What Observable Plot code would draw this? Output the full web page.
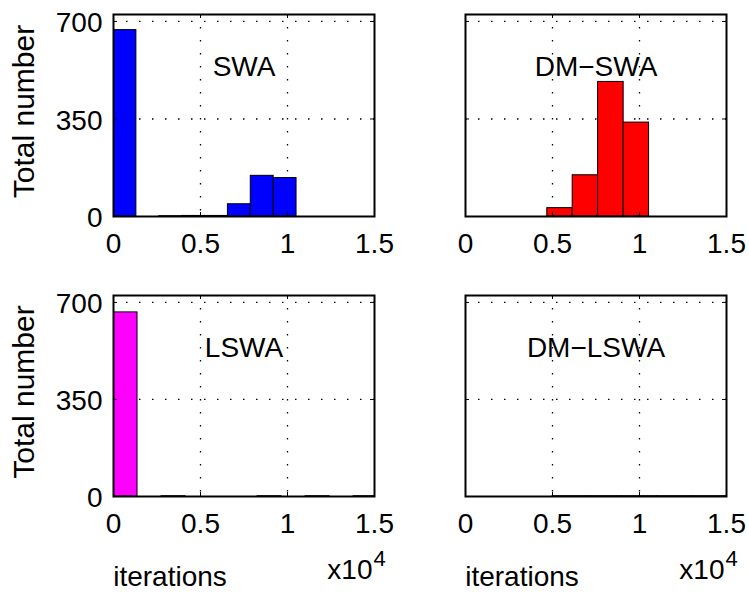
<!DOCTYPE html>
<html>
<head>
<meta charset="utf-8">
<script src="https://cdn.jsdelivr.net/npm/d3@7"></script>
<script src="https://cdn.jsdelivr.net/npm/@observablehq/plot@0.6"></script>
<style>
  html, body { margin: 0; padding: 0; background: #fff; }
  #chart { position: relative; width: 749px; height: 595px; overflow: hidden; }
  #chart svg { position: absolute; background: transparent; }
</style>
</head>
<body>
<div id="chart"></div>
<script>
// ---- data (x in units of 10^4 iterations) ----
const xTickValues = [0, 0.5, 1, 1.5];
const yTickValues = [0, 350, 700];
const xDomain = [0, 1.5];
const yDomain = [0, 725];

const swaEdges = [0, 0.1315, 0.263, 0.3945, 0.526, 0.6575, 0.789, 0.9205, 1.052];
const swaCounts = [669, 0, 1, 2, 2, 44, 146, 138];

const dmSwaEdges = [0.470, 0.616, 0.762, 0.909, 1.055];
const dmSwaCounts = [30, 148, 483, 337];

const lswaEdges = [0, 0.138, 0.276, 0.414, 0.552, 0.69, 0.828, 0.966, 1.104, 1.242, 1.38, 1.518];
const lswaCounts = [664, 0, 1, 0, 0, 0, 1, 0, 1, 0, 1];

const dmLswaEdges = [0.5, 0.7, 0.9, 1.1, 1.3, 1.5];
const dmLswaCounts = [1, 1, 1, 1, 1];

const panelTitles = ["SWA", "DM\u2212SWA", "LSWA", "DM\u2212LSWA"];
const panelColors = ["#0000ff", "#ff0000", "#ff00ff", "#ff0000"];
const yLabel = "Total number";
const xLabel = "iterations";

const FONT = "'Liberation Sans', Arial, Helvetica, sans-serif";
const FS = 28;

function panel({edges, counts, color, title, left, top, width, height, mt, mb, ml, mr, showY, bottomRow}) {
  const bins = counts.map((c, i) => ({x1: edges[i], x2: edges[i + 1], y: c}));
  const fw = width - ml - mr;
  const fh = height - mt - mb;
  const xInner = xTickValues.filter(d => d > xDomain[0] && d < xDomain[1]);
  const yInner = yTickValues.filter(d => d > yDomain[0] && d < yDomain[1]);
  const dotted = {stroke: "black", strokeWidth: 1.3, strokeDasharray: "1.5,11.5"};
  const marks = [
    Plot.ruleX(xInner, dotted),
    Plot.ruleY(yInner, dotted),
    Plot.rectY(bins, {x1: "x1", x2: "x2", y: "y", fill: color, stroke: "black", strokeWidth: 1, inset: 0, clip: true}),
    // inward tick marks
    Plot.ruleX(xInner, {stroke: "black", strokeWidth: 1, insetTop: fh - 4}),
    Plot.ruleX(xInner, {stroke: "black", strokeWidth: 1, insetBottom: fh - 4}),
    Plot.ruleY(yInner, {stroke: "black", strokeWidth: 1, insetRight: fw - 4}),
    Plot.ruleY(yInner, {stroke: "black", strokeWidth: 1, insetLeft: fw - 4}),
    Plot.frame({stroke: "black", strokeWidth: 2}),
    Plot.axisX(xTickValues, {tickSize: 0, tickPadding: 17, fontSize: FS, tickFormat: d => String(d), label: null}),
    Plot.text([title], {frameAnchor: "top", text: d => d, dy: 42, fontSize: FS, fill: "black"})
  ];
  if (showY) {
    marks.push(Plot.axisY(yTickValues, {tickSize: 0, tickPadding: 11, fontSize: FS, dy: 2, label: null}));
    marks.push(Plot.text([yLabel], {frameAnchor: "left", textAnchor: "middle", text: d => d, dx: -89, dy: -4, rotate: -90, fontSize: 30, fill: "black"}));
  }
  if (bottomRow) {
    marks.push(Plot.text([xLabel], {frameAnchor: "bottom", textAnchor: "middle", text: d => d, dx: -74, dy: 89, fontSize: FS, fill: "black"}));
    marks.push(Plot.text(["x10"], {frameAnchor: "bottom-right", text: d => d, textAnchor: "end", dx: -2, dy: 82, fontSize: FS, fill: "black"}));
    marks.push(Plot.text(["4"], {frameAnchor: "bottom-right", text: d => d, textAnchor: "start", dx: -1, dy: 69, fontSize: 22, fill: "black"}));
  }
  const svg = Plot.plot({
    width, height,
    marginTop: mt, marginBottom: mb, marginLeft: ml, marginRight: mr,
    x: {domain: xDomain, axis: null},
    y: {domain: yDomain, axis: null},
    style: {fontFamily: FONT, fontSize: FS + "px", color: "black", background: "transparent", overflow: "visible"},
    marks
  });
  svg.style.left = left + "px";
  svg.style.top = top + "px";
  document.getElementById("chart").appendChild(svg);
}

const colL = {left: 0, width: 400, ml: 113, mr: 26};
const colR = {left: 380, width: 369, ml: 85, mr: 23};
const rowT = {top: 0, height: 280, mt: 14, mb: 64};
const rowB = {top: 280, height: 315, mt: 15, mb: 99};

panel({edges: swaEdges, counts: swaCounts, color: panelColors[0], title: panelTitles[0], ...colL, ...rowT, showY: true, bottomRow: false});
panel({edges: dmSwaEdges, counts: dmSwaCounts, color: panelColors[1], title: panelTitles[1], ...colR, ...rowT, showY: false, bottomRow: false});
panel({edges: lswaEdges, counts: lswaCounts, color: panelColors[2], title: panelTitles[2], ...colL, ...rowB, showY: true, bottomRow: true});
panel({edges: dmLswaEdges, counts: dmLswaCounts, color: panelColors[3], title: panelTitles[3], ...colR, ...rowB, showY: false, bottomRow: true});
</script>
</body>
</html>
